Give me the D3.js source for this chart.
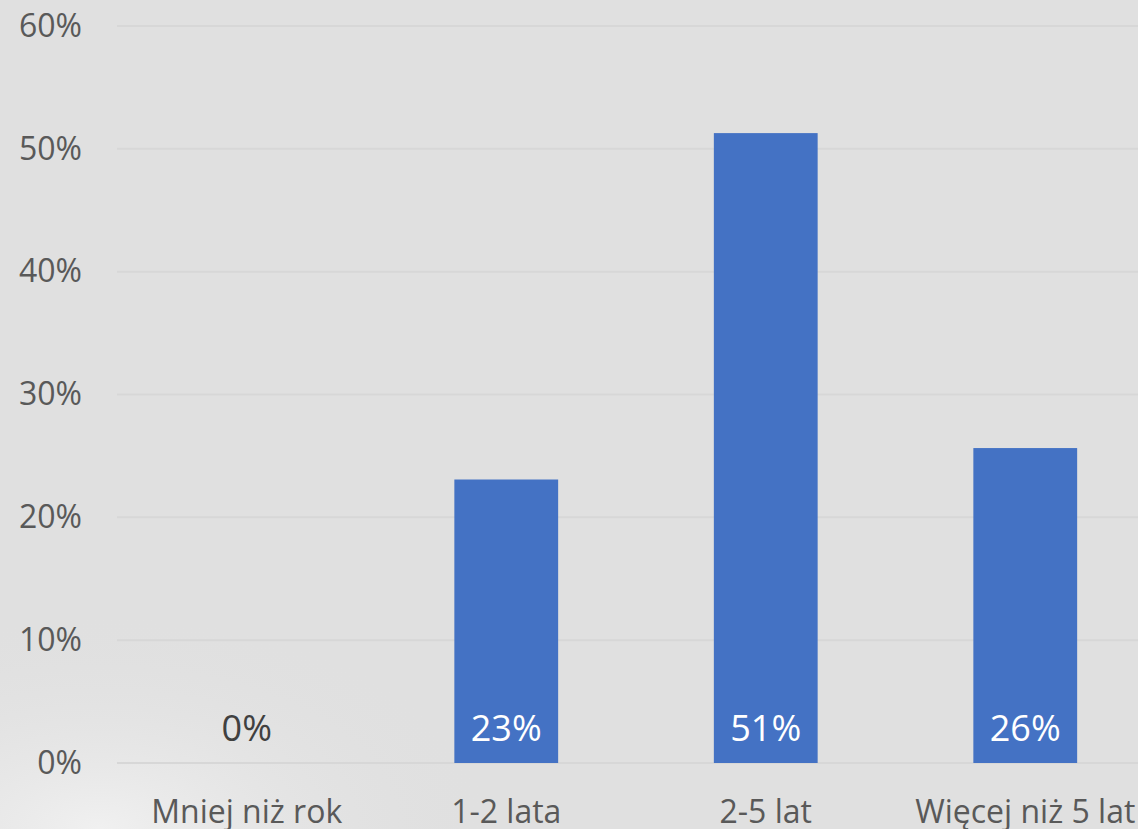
<!DOCTYPE html>
<html>
<head>
<meta charset="utf-8">
<script src="https://cdn.jsdelivr.net/npm/d3@7/dist/d3.min.js"></script>
<style>
  html, body { margin: 0; padding: 0; background: #e0e0e0; overflow: hidden; }
  svg { display: block; }
  text { font-family: "Open Sans", "Noto Sans", sans-serif; }
</style>
</head>
<body>
<svg id="chart" width="1138" height="829"></svg>
<script>
const categories = ["Mniej niż rok", "1-2 lata", "2-5 lat", "Więcej niż 5 lat"];
const values = [0.0, 0.2308, 0.5128, 0.2564];
const valueLabels = ["0%", "23%", "51%", "26%"];
const yTicks = [0, 0.1, 0.2, 0.3, 0.4, 0.5, 0.6];

const W = 1138, H = 829;
const svg = d3.select("#chart");

// background
svg.append("rect").attr("width", W).attr("height", H).attr("fill", "#e0e0e0");
const defs = svg.append("defs");
const grad = defs.append("radialGradient").attr("id", "glow")
  .attr("cx", "0.15").attr("cy", "1.0").attr("r", "0.6");
grad.append("stop").attr("offset", "0").attr("stop-color", "#f2f2f2").attr("stop-opacity", 0.9);
grad.append("stop").attr("offset", "1").attr("stop-color", "#e0e0e0").attr("stop-opacity", 0);
svg.append("path")
  .attr("d", "M0,470 C120,500 300,560 460,660 C560,720 620,780 660,829 L0,829 Z")
  .attr("fill", "url(#glow)");

const x = d3.scaleBand().domain(categories).range([117, 1155]).paddingInner(0.6).paddingOuter(0.3);
const y = d3.scaleLinear().domain([0, 0.6]).range([763, 26]);

// gridlines
svg.append("g").selectAll("line").data(yTicks).join("line")
  .attr("x1", 117).attr("x2", W)
  .attr("y1", d => y(d)).attr("y2", d => y(d))
  .attr("stroke", "#d7d7d7").attr("stroke-width", 2);

// y axis labels
const yAxis = d3.axisLeft(y).tickValues(yTicks).tickFormat(d3.format(".0%")).tickSize(0).tickPadding(0);
const ya = svg.append("g").attr("transform", "translate(82,0)").call(yAxis);
ya.select(".domain").remove();
ya.selectAll("text").attr("font-size", 32).attr("fill", "#595959")
  .attr("font-family", "'Open Sans', sans-serif");

// bars
svg.append("g").selectAll("rect").data(values).join("rect")
  .attr("x", (d, i) => x(categories[i]))
  .attr("width", x.bandwidth())
  .attr("y", d => y(d))
  .attr("height", d => y(0) - y(d))
  .attr("fill", "#4472C4");

// value labels
svg.append("g").selectAll("text").data(values).join("text")
  .attr("x", (d, i) => x(categories[i]) + x.bandwidth() / 2)
  .attr("y", 741)
  .attr("text-anchor", "middle")
  .attr("font-size", 36)
  .attr("fill", d => d > 0 ? "#ffffff" : "#404040")
  .text((d, i) => valueLabels[i]);

// x axis labels
const xAxis = d3.axisBottom(x).tickSize(0).tickPadding(0);
const xa = svg.append("g").attr("transform", "translate(0,800)").call(xAxis);
xa.select(".domain").remove();
xa.selectAll("text").attr("font-size", 32).attr("fill", "#595959")
  .attr("font-family", "'Open Sans', sans-serif").attr("dy", "0.71em");
</script>
</body>
</html>
